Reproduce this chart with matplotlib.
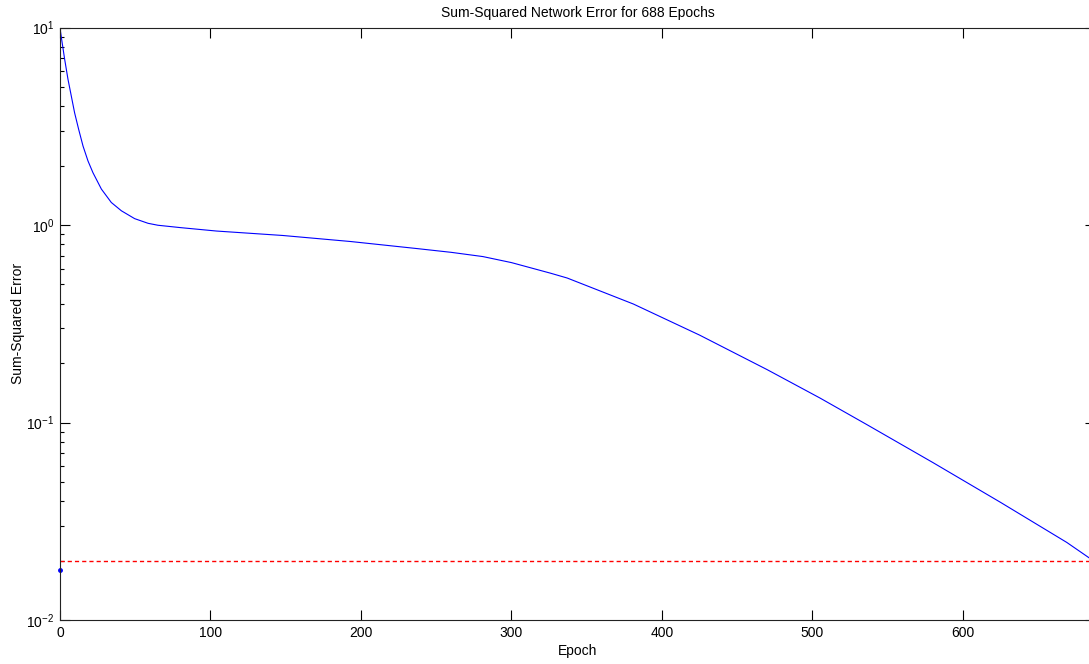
import matplotlib
matplotlib.use("Agg")
import matplotlib.pyplot as plt
from matplotlib.ticker import LogLocator, NullFormatter, FixedLocator

plt.rcParams['font.family'] = ['Liberation Sans', 'DejaVu Sans']
plt.rcParams['mathtext.default'] = 'regular'
plt.rcParams['lines.scale_dashes'] = False

# Data
epochs = [0, 1.3, 3.1, 5.3, 7.5, 9.7, 12.4, 15.3, 18.6, 21.9, 27.5, 34.1, 40.8,
          49.6, 58.5, 65.1, 80, 104, 148, 193, 237, 260, 281, 300, 326, 337,
          381, 425, 470, 505, 536, 580, 625, 669, 684, 688]
errors = [9.9, 8.5, 6.9, 5.47, 4.50, 3.70, 3.05, 2.51, 2.11, 1.84, 1.52, 1.30, 1.18,
          1.077, 1.02, 0.997, 0.970, 0.932, 0.885, 0.825, 0.760, 0.727, 0.692, 0.645,
          0.570, 0.539, 0.398, 0.277, 0.185, 0.133, 0.0977, 0.0627, 0.0394, 0.0247,
          0.0206, 0.0197]
goal = 0.02
start_marker = (0, 0.018)
n_epochs = 688
x_ticks = [0, 100, 200, 300, 400, 500, 600]

W, H = 1089, 664
fig = plt.figure(figsize=(W / 100, H / 100), dpi=100)
left, right, top, bottom = 60, 1095.4, 27.5, 620
ax = fig.add_axes([left / W, (H - bottom) / H, (right - left) / W, (bottom - top) / H])

ax.semilogy(epochs, errors, color='#0000ff', lw=0.8)
ax.axhline(goal, color='#ff0000', lw=1.0, linestyle=(0, (3.0, 2.2)))
ax.plot([start_marker[0]], [start_marker[1]], marker='.', color='#0000ff',
        markersize=5, clip_on=False)

ax.set_xlim(0, n_epochs)
ax.set_ylim(1e-2, 1e1)
ax.xaxis.set_major_locator(FixedLocator(x_ticks))
ax.yaxis.set_major_locator(LogLocator(base=10, numticks=10))
ax.yaxis.set_minor_locator(LogLocator(base=10, subs=range(2, 10), numticks=20))
ax.yaxis.set_minor_formatter(NullFormatter())

ax.tick_params(which='both', direction='in', top=True, right=True,
               labelsize=10, colors='black', width=0.8)
ax.tick_params(which='major', length=7.2, pad=4)
ax.tick_params(which='minor', length=3.2)
for s in ax.spines.values():
    s.set_linewidth(0.8)
    s.set_color('#222222')

ax.set_title('Sum-Squared Network Error for 688 Epochs', fontsize=10, pad=7.5)
ax.set_xlabel('Epoch', fontsize=10, labelpad=3)
ax.set_ylabel('Sum-Squared Error', fontsize=10, labelpad=1)

fig.savefig('out.png', dpi=100)
